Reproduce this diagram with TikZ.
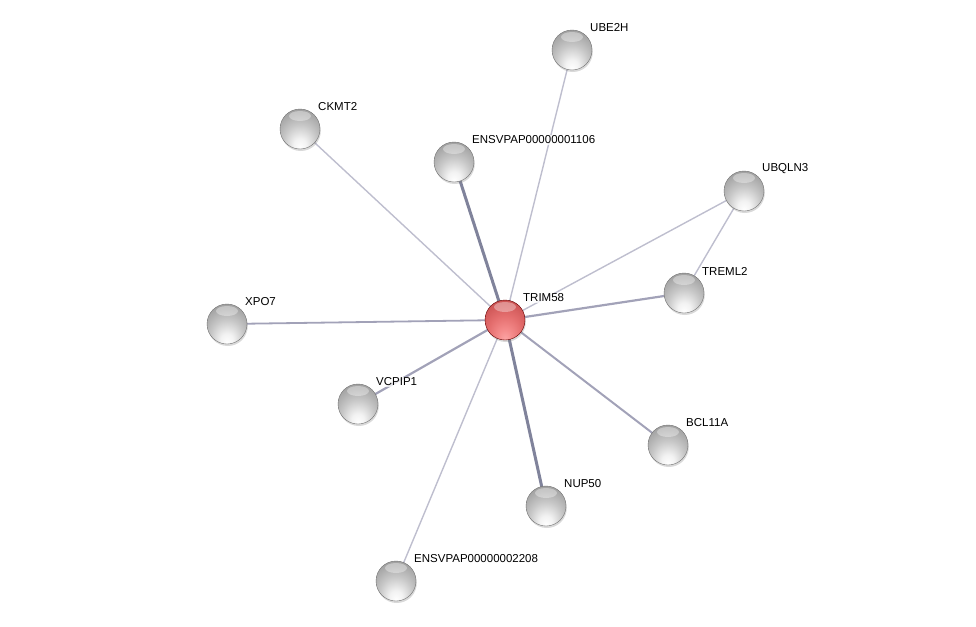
\documentclass[tikz,border=0pt]{standalone}
\usepackage{fontspec}
\setmainfont{Liberation Sans}
\usetikzlibrary{shadows}
\pgfdeclareradialshading{graysphere}{\pgfpoint{0bp}{-24bp}}{color(0bp)=(white); color(8bp)=(black!5); color(20bp)=(black!22); color(32bp)=(black!36); color(42bp)=(black!48); color(50bp)=(black!58)}
\pgfdeclareradialshading{redsphere}{\pgfpoint{0bp}{-24bp}}{color(0bp)=(rgb,255:red,252;green,165;blue,165); color(8bp)=(rgb,255:red,245;green,140;blue,140); color(20bp)=(rgb,255:red,228;green,110;blue,110); color(32bp)=(rgb,255:red,205;green,85;blue,85); color(42bp)=(rgb,255:red,170;green,55;blue,55); color(50bp)=(rgb,255:red,125;green,25;blue,25)}
\definecolor{edgelight}{RGB}{190,190,206}
\definecolor{edgemid}{RGB}{162,162,184}
\definecolor{edgedark}{RGB}{128,131,155}
\tikzset{
  prot/.style={circle, minimum size=40pt, inner sep=0pt, shading=graysphere,
    draw=black!55, line width=0.4pt,
    drop shadow={shadow xshift=0.8pt, shadow yshift=-2pt, opacity=0.3},
    path picture={\fill[white, opacity=0.35] ([yshift=-7pt]path picture bounding box.north) ellipse (11pt and 5pt);}},
  protred/.style={prot, shading=redsphere, draw=black!60!red},
  lbl/.style={anchor=west, font=\fontsize{11.5}{13}\selectfont, fill=white, fill opacity=0.75, text opacity=1, inner sep=1pt},
  elight/.style={draw=edgelight, line width=1.4pt},
  emid/.style={draw=edgemid, line width=2.2pt},
  edark/.style={draw=edgedark, line width=3pt}
}
\begin{document}
\begin{tikzpicture}[x=1pt,y=-1pt]
\useasboundingbox (0,0) rectangle (976,626);
% coordinates
\coordinate (pTRIM) at (505,320);
\coordinate (pUBE) at (572,50);
\coordinate (pCKMT) at (300,129);
\coordinate (pE1106) at (454,162);
\coordinate (pUBQ) at (744,191);
\coordinate (pTREML) at (684,293);
\coordinate (pXPO) at (227,324);
\coordinate (pVCP) at (358,404);
\coordinate (pBCL) at (668,445);
\coordinate (pNUP) at (546,506);
\coordinate (pE2208) at (396,581);
% edges
\draw[elight] (pTRIM) -- (pUBE);
\draw[elight] (pTRIM) -- (pCKMT);
\draw[edark] (pTRIM) -- (pE1106);
\draw[elight] (pTRIM) -- (pUBQ);
\draw[emid] (pTRIM) -- (pTREML);
\draw[elight] (pUBQ) -- (pTREML);
\draw[emid, line width=1.8pt] (pTRIM) -- (pXPO);
\draw[emid] (pTRIM) -- (pVCP);
\draw[emid, line width=2pt] (pTRIM) -- (pBCL);
\draw[edark] (pTRIM) -- (pNUP);
\draw[elight] (pTRIM) -- (pE2208);
% nodes
\node[prot] (UBE) at (pUBE) {};
\node[prot] (CKMT) at (pCKMT) {};
\node[prot] (E1106) at (pE1106) {};
\node[prot] (UBQ) at (pUBQ) {};
\node[prot] (TREML) at (pTREML) {};
\node[prot] (XPO) at (pXPO) {};
\node[prot] (VCP) at (pVCP) {};
\node[prot] (BCL) at (pBCL) {};
\node[prot] (NUP) at (pNUP) {};
\node[prot] (E2208) at (pE2208) {};
\node[protred] (TRIM) at (pTRIM) {};
% labels
\node[lbl] (lTRIM) at ([shift={(17,-22)}]pTRIM) {TRIM58};
\node[lbl] (lUBE) at ([shift={(17,-22)}]pUBE) {UBE2H};
\node[lbl] (lCKMT) at ([shift={(17,-22)}]pCKMT) {CKMT2};
\node[lbl] (lE1106) at ([shift={(17,-22)}]pE1106) {ENSVPAP00000001106};
\node[lbl] (lUBQ) at ([shift={(17,-22)}]pUBQ) {UBQLN3};
\node[lbl] (lTREML) at ([shift={(17,-22)}]pTREML) {TREML2};
\node[lbl] (lXPO) at ([shift={(17,-22)}]pXPO) {XPO7};
\node[lbl] (lVCP) at ([shift={(17,-22)}]pVCP) {VCPIP1};
\node[lbl] (lBCL) at ([shift={(17,-22)}]pBCL) {BCL11A};
\node[lbl] (lNUP) at ([shift={(17,-22)}]pNUP) {NUP50};
\node[lbl] (lE2208) at ([shift={(17,-22)}]pE2208) {ENSVPAP00000002208};
\end{tikzpicture}
\end{document}
